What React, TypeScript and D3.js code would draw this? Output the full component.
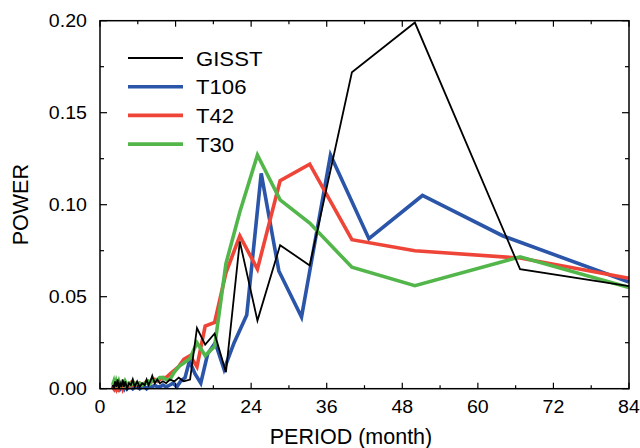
import React from "react";
import * as d3 from "d3";

// Shared periods (months) for GISST, T42, T30
const periodsA = [2.0,2.2,2.4,2.6,2.8,3.0,3.2,3.4,3.6,3.8,4.0,4.3,4.6,4.9,5.2,5.5,5.9,6.3,6.7,7.1,7.4,7.7,8.0,8.3,8.7,9.1,9.5,10.0,10.5,11.1,11.8,12.5,13.3,14.3,15.4,16.7,18.2,20.0,22.2,25.0,28.6,33.3,40.0,50.0,66.7,84.0];
// Periods for T106
const periodsB = [2.0,2.2,2.4,2.6,2.8,3.0,3.2,3.4,3.6,3.8,4.0,4.3,4.6,4.9,5.2,5.5,5.9,6.3,6.7,7.1,7.4,7.7,8.0,8.3,8.7,9.1,9.5,10.0,10.5,11.1,11.6,12.2,12.8,13.5,14.2,15.1,16.0,17.1,18.3,19.7,21.3,23.3,25.6,28.4,32.0,36.6,42.7,51.2,64.0,84.0];

const gisst = [0.002,0.000,0.004,0.001,0.005,0.000,0.003,0.001,0.005,0.001,0.004,0.000,0.003,0.002,0.005,0.001,0.004,0.001,0.003,0.002,0.005,0.002,0.004,0.007,0.003,0.005,0.003,0.004,0.003,0.005,
  0.004,0.006,0.004,0.005,0.033,0.024,0.030,0.009,0.080,0.037,0.078,0.067,0.172,0.199,0.065,0.0557];
const t42 = [0.001,0.000,0.002,0.000,0.002,0.000,0.001,0.002,0.000,0.002,0.001,0.002,0.001,0.003,0.002,0.003,0.002,0.003,0.002,0.003,0.004,0.003,0.004,0.004,0.005,0.004,0.005,0.006,0.006,0.008,
  0.010,0.012,0.016,0.018,0.012,0.034,0.036,0.063,0.083,0.065,0.113,0.122,0.081,0.075,0.071,0.060];
const t30 = [0.002,0.004,0.001,0.004,0.002,0.004,0.002,0.003,0.003,0.002,0.004,0.002,0.003,0.002,0.004,0.002,0.003,0.003,0.002,0.003,0.003,0.004,0.003,0.005,0.004,0.005,0.006,0.006,0.005,0.005,
  0.009,0.012,0.014,0.0165,0.025,0.018,0.023,0.068,0.096,0.127,0.1026,0.090,0.066,0.056,0.0717,0.055];
const t106 = [0.000,0.002,0.000,0.001,0.000,0.002,0.000,0.001,0.001,0.000,0.002,0.000,0.001,0.001,0.000,0.001,0.001,0.000,0.001,0.001,0.000,0.001,0.001,0.001,0.002,0.001,0.001,0.002,0.001,0.002,
  0.003,0.001,0.004,0.006,0.015,0.008,0.003,0.019,0.025,0.0105,0.025,0.040,0.117,0.064,0.039,0.127,0.0815,0.105,0.083,0.058];

const seriesNames = ["GISST", "T106", "T42", "T30"];
const seriesColors = ["#000000", "#2a55a8", "#ef4538", "#52b64a"];
const seriesWidths = [1.8, 3.6, 3.6, 3.6];

const xTickLabels = [0, 12, 24, 36, 48, 60, 72, 84];
const yTickLabels = [0, 0.05, 0.1, 0.15, 0.2];

const W = 640, H = 448;
const L = 100, R = 629, T = 20.7, B = 388.7;

export default function App() {
  const x = d3.scaleLinear().domain([0, 84]).range([L, R]);
  const y = d3.scaleLinear().domain([0, 0.2]).range([B, T]);
  const line = d3.line<[number, number]>().x(d => x(d[0])).y(d => y(d[1]));

  const data: [number, number][][] = [
    periodsA.map((p, i) => [p, gisst[i]]),
    periodsB.map((p, i) => [p, t106[i]]),
    periodsA.map((p, i) => [p, t42[i]]),
    periodsA.map((p, i) => [p, t30[i]]),
  ];
  const order = [1, 2, 3, 0];

  const xMinor = d3.range(0, 85, 6);
  const yMinor = d3.range(0, 0.2001, 0.025);
  const font = "'Liberation Sans', Arial, Helvetica, sans-serif";

  return (
    <svg width={W} height={H} style={{ position: "absolute", left: 0, top: 0, background: "#fff" }} fontFamily={font}>
      {order.map(i => (
        <path key={i} d={line(data[i]) || ""} fill="none" stroke={seriesColors[i]}
          strokeWidth={seriesWidths[i]} strokeLinejoin="miter" strokeMiterlimit={4} />
      ))}
      <rect x={L} y={T} width={R - L} height={B - T} fill="none" stroke="#000" strokeWidth={1.5} />
      {xMinor.map(v => {
        const len = v % 12 === 0 ? 6 : 3.5;
        return (
          <g key={"xt" + v}>
            <line x1={x(v)} x2={x(v)} y1={B} y2={B - len} stroke="#000" strokeWidth={1.2} />
            <line x1={x(v)} x2={x(v)} y1={T} y2={T + len} stroke="#000" strokeWidth={1.2} />
          </g>
        );
      })}
      {yMinor.map((v, i) => {
        const len = i % 2 === 0 ? 7 : 4;
        return (
          <g key={"yt" + i}>
            <line x1={L} x2={L + len} y1={y(v)} y2={y(v)} stroke="#000" strokeWidth={1.2} />
            <line x1={R} x2={R - len} y1={y(v)} y2={y(v)} stroke="#000" strokeWidth={1.2} />
          </g>
        );
      })}
      {xTickLabels.map(v => (
        <text key={"xl" + v} transform={`translate(${x(v)},${B + 24}) scale(1.12,1)`} textAnchor="middle" fontSize={17.5} fill="#000">{v}</text>
      ))}
      {yTickLabels.map(v => (
        <text key={"yl" + v} transform={`translate(87,${y(v) + 6.3}) scale(1.12,1)`} textAnchor="end" fontSize={17.5} fill="#000">{v.toFixed(2)}</text>
      ))}
      <text x={351} y={444} textAnchor="middle" fontSize={21.5} fill="#000">PERIOD (month)</text>
      <text transform={`translate(28,${(T + B) / 2}) rotate(-90)`} textAnchor="middle" fontSize={21.5} fill="#000">POWER</text>
      {seriesNames.map((n, i) => {
        const cy = 58 + i * 28.7;
        return (
          <g key={n}>
            <line x1={128} x2={183} y1={cy} y2={cy} stroke={seriesColors[i]} strokeWidth={i === 0 ? 1.8 : 3.6} />
            <text transform={`translate(196,${cy + 7.5}) scale(1.08,1)`} fontSize={20.5} fill="#000">{n}</text>
          </g>
        );
      })}
    </svg>
  );
}
